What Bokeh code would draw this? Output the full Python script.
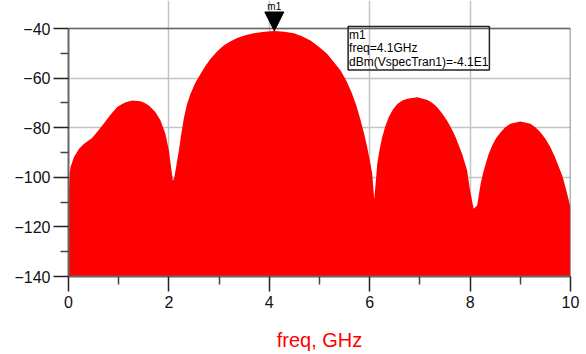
from bokeh.plotting import figure
from bokeh.models import (Range1d, FixedTicker, Arrow, NormalHead, Label)
from bokeh.embed import file_html
from bokeh.resources import INLINE

# ---- data ----
freq_ghz = [0.00, 0.02, 0.04, 0.11, 0.21, 0.31, 0.47, 0.57, 0.70, 0.84, 0.97,
            1.06, 1.14, 1.27, 1.43, 1.52, 1.60, 1.73, 1.83, 1.93, 2.00, 2.05, 2.08, 2.11,
            2.15, 2.20, 2.25, 2.30, 2.36, 2.43, 2.53, 2.63, 2.73, 2.83, 2.96, 3.09, 3.22,
            3.36, 3.52, 3.69, 3.90, 4.10, 4.30, 4.49, 4.65, 4.82, 4.98, 5.15, 5.28,
            5.42, 5.54, 5.65, 5.74, 5.82, 5.89, 5.95, 6.01, 6.05, 6.09, 6.12, 6.15,
            6.20, 6.25, 6.31, 6.38, 6.46, 6.55, 6.65, 6.75, 6.95, 7.15, 7.25, 7.34,
            7.44, 7.54, 7.63, 7.71, 7.84, 7.94, 8.00, 8.07, 8.14, 8.21, 8.26, 8.31,
            8.37, 8.44, 8.52, 8.61, 8.70, 8.80, 9.00, 9.20, 9.30, 9.40, 9.50, 9.60,
            9.69, 9.77, 9.84, 9.90, 10.00]
env_dbm = [-112.0, -99.0, -95.8, -91.8, -88.5, -86.5, -84.2, -81.7, -78.4, -74.7, -71.7,
           -70.5, -69.7, -69.0, -69.3, -70.0, -71.0, -73.7, -77.0, -82.4, -89.2, -97.0, -101.5, -100.0,
           -95.0, -89.0, -82.0, -76.0, -70.5, -66.3, -61.8, -58.3, -55.0, -52.2, -49.3, -46.9, -45.2,
           -43.8, -42.7, -41.9, -41.3, -41.0, -41.3, -41.9, -43.1, -44.8, -47.3, -50.2, -53.4,
           -56.9, -61.3, -66.3, -71.5, -77.1, -82.5, -87.8, -94.0, -98.6, -109.0, -102.0, -94.6,
           -88.5, -83.8, -79.5, -75.7, -72.8, -70.4, -69.0, -68.3, -67.7, -68.8, -70.0, -71.7,
           -74.2, -77.1, -80.4, -83.8, -90.5, -97.2, -105.3, -112.7, -111.4, -102.6, -98.2, -94.6,
           -90.6, -87.2, -84.2, -81.8, -79.8, -78.4, -77.5, -78.4, -79.8, -81.8, -84.5, -87.9,
           -91.8, -95.9, -99.6, -104.0, -112.0]

y_ticks = [-140, -120, -100, -80, -60, -40]
y_minor = [-130, -110, -90, -70, -50]
x_ticks = [0, 2, 4, 6, 8, 10]
x_minor = [1, 3, 5, 7, 9]

marker_name = "m1"
marker_freq = 4.1
marker_dbm = -41.0
readout_lines = ["m1", "freq=4.1GHz", "dBm(VspecTran1)=-4.1E1"]

X_MIN, X_MAX = 0, 10
Y_MIN, Y_MAX = -140, -40
FLOOR = Y_MIN
FONT = "Liberation Sans"
FRAME_H = 276            # pixels from canvas top to the x axis
PLOT_H = 248             # pixels spanned by Y_MIN..Y_MAX
y_top = Y_MIN + (Y_MAX - Y_MIN) * FRAME_H / PLOT_H   # headroom for marker

p = figure(width=586, height=354, output_backend="svg", toolbar_location=None,
           x_range=Range1d(X_MIN, X_MAX), y_range=Range1d(Y_MIN, y_top),
           min_border_left=68, min_border_right=16, min_border_top=0,
           min_border_bottom=78)

p.varea(x=freq_ghz, y1=FLOOR, y2=env_dbm, fill_color="#ff0000")

# axes
for ax in (p.xaxis[0], p.yaxis[0]):
    ax.major_tick_out = 15
    ax.major_tick_in = 0
    ax.minor_tick_out = 8
    ax.minor_tick_in = 0
    ax.major_tick_line_color = "#222222"
    ax.minor_tick_line_color = "#444444"
    ax.major_tick_line_width = 1.5
    ax.minor_tick_line_width = 1.5
    ax.axis_line_color = "#666666"
    ax.axis_line_width = 2
    ax.major_label_text_font = FONT
    ax.major_label_text_font_size = "16px"
    ax.major_label_text_color = "#111111"

p.yaxis[0].bounds = (Y_MIN, Y_MAX)
p.yaxis[0].ticker = FixedTicker(ticks=y_ticks, minor_ticks=y_minor)
p.xaxis[0].ticker = FixedTicker(ticks=x_ticks, minor_ticks=x_minor)
p.yaxis[0].major_label_standoff = 3
p.xaxis[0].major_label_standoff = 4
p.xaxis[0].axis_label = "freq, GHz"
p.xaxis[0].axis_label_text_color = "#ff0000"
p.xaxis[0].axis_label_text_font = FONT
p.xaxis[0].axis_label_text_font_size = "20px"
p.xaxis[0].axis_label_text_font_style = "normal"
p.xaxis[0].axis_label_standoff = 18

p.xgrid.bounds = (Y_MIN, Y_MAX)
p.grid.grid_line_color = "#c4c4c4"
p.grid.grid_line_width = 1.5
p.outline_line_color = None
p.background_fill_color = "white"
p.border_fill_color = "white"

# top and right border of the plot box
p.segment(x0=[X_MIN, X_MAX], y0=[Y_MAX, Y_MIN], x1=[X_MAX, X_MAX], y1=[Y_MAX, Y_MAX],
          line_color="#666666", line_width=1.5)

# marker
p.add_layout(Arrow(end=NormalHead(size=19, fill_color="black", line_color="black"),
                   x_start=marker_freq, y_start=marker_dbm + 10,
                   x_end=marker_freq, y_end=marker_dbm, line_alpha=0))
p.add_layout(Label(x=marker_freq, y=marker_dbm, y_offset=24, text=marker_name,
                   text_align="center", text_baseline="middle",
                   text_font=FONT, text_font_size="10px", text_color="black"))

# readout box
p.add_layout(Label(x=5.57, y=-39.2, text="\n".join(readout_lines),
                   anchor="top_left", text_align="left", text_baseline="top",
                   text_font=FONT, text_font_size="12px", text_color="black",
                   text_line_height=0.98, padding=1,
                   border_line_color="#222222", border_line_width=1.5))

open("out.html", "w").write(file_html(p, INLINE))
